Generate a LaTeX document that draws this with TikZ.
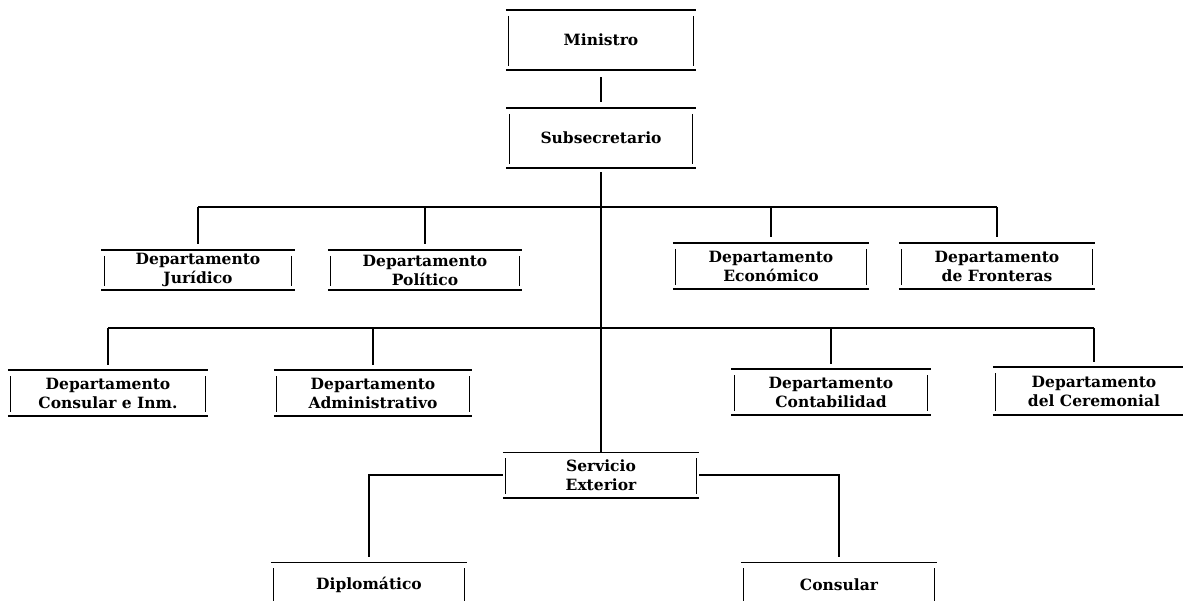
\documentclass[tikz,border=0pt]{standalone}
\usepackage{fontspec}
\setmainfont{DejaVu Serif}
\begin{document}
\begin{tikzpicture}[x=1pt,y=-1pt,
    orgbox/.style={minimum width=196pt,minimum height=#1,inner sep=0pt,align=center,
      font=\fontsize{15.5}{19}\selectfont\bfseries,
      append after command={
        (\tikzlastnode.north west) edge[line width=1.6pt] (\tikzlastnode.north east)
        (\tikzlastnode.south west) edge[line width=1.6pt] (\tikzlastnode.south east)
        ([shift={(3pt,-6pt)}]\tikzlastnode.north west) edge[line width=1.3pt] ([shift={(3pt,4pt)}]\tikzlastnode.south west)
        ([shift={(-3pt,-6pt)}]\tikzlastnode.north east) edge[line width=1.3pt] ([shift={(-3pt,4pt)}]\tikzlastnode.south east)}},
    orgbox/.default=45pt,
    link/.style={line width=1.1pt},
    trunk/.style={line width=2.2pt}]
\useasboundingbox (0,0) rectangle (1183,601);
\clip (0,0) rectangle (1183,601);
\node[orgbox=60pt,minimum width=190pt] (min) at (601,40) {Ministro};
\node[orgbox=60pt,minimum width=189pt] (sub) at (601,138) {Subsecretario};
\node[orgbox=40pt,minimum width=193pt] (jur) at (198,270) {Departamento\\Jurídico};
\node[orgbox=40pt,minimum width=194pt] (pol) at (425,270) {Departamento\\Político};
\node[orgbox=46pt] (eco) at (771,266) {Departamento\\Económico};
\node[orgbox=46pt] (fro) at (997,266) {Departamento\\de Fronteras};
\node[orgbox,minimum width=200pt] (cin) at (108,393) {Departamento\\Consular e Inm.};
\node[orgbox,minimum width=198pt] (adm) at (373,393) {Departamento\\Administrativo};
\node[orgbox,minimum width=199pt] (con) at (831,392) {Departamento\\Contabilidad};
\node[orgbox=47pt,minimum width=202pt] (cer) at (1094,391) {Departamento\\del Ceremonial};
\node[orgbox] (ser) at (601,475) {Servicio\\Exterior};
\node[orgbox] (dip) at (369,585) {Diplomático};
\node[orgbox] (csl) at (839,585) {Consular};
\coordinate (bus1) at (601,207);
\coordinate (bus2) at (601,328);
\draw[trunk,shorten <=7pt,shorten >=6pt] (min) -- (sub);
\draw[trunk,shorten <=4pt] (sub) -- (bus1);
\draw[link] (bus1) -- (ser);
\draw[link] (jur.north |- bus1) -- (fro.north |- bus1);
\foreach \n in {jur,pol,eco,fro}
  \draw[link,shorten >=6pt] (\n.north |- bus1) -- (\n.north);
\draw[link] (cin.north |- bus2) -- (cer.north |- bus2);
\foreach \n in {cin,adm,con,cer}
  \draw[link,shorten >=5pt] (\n.north |- bus2) -- (\n.north);
\draw[link,shorten >=5pt] (ser.west) -| (dip.north);
\draw[link,shorten >=5pt] (ser.east) -| (csl.north);
\end{tikzpicture}
\end{document}
